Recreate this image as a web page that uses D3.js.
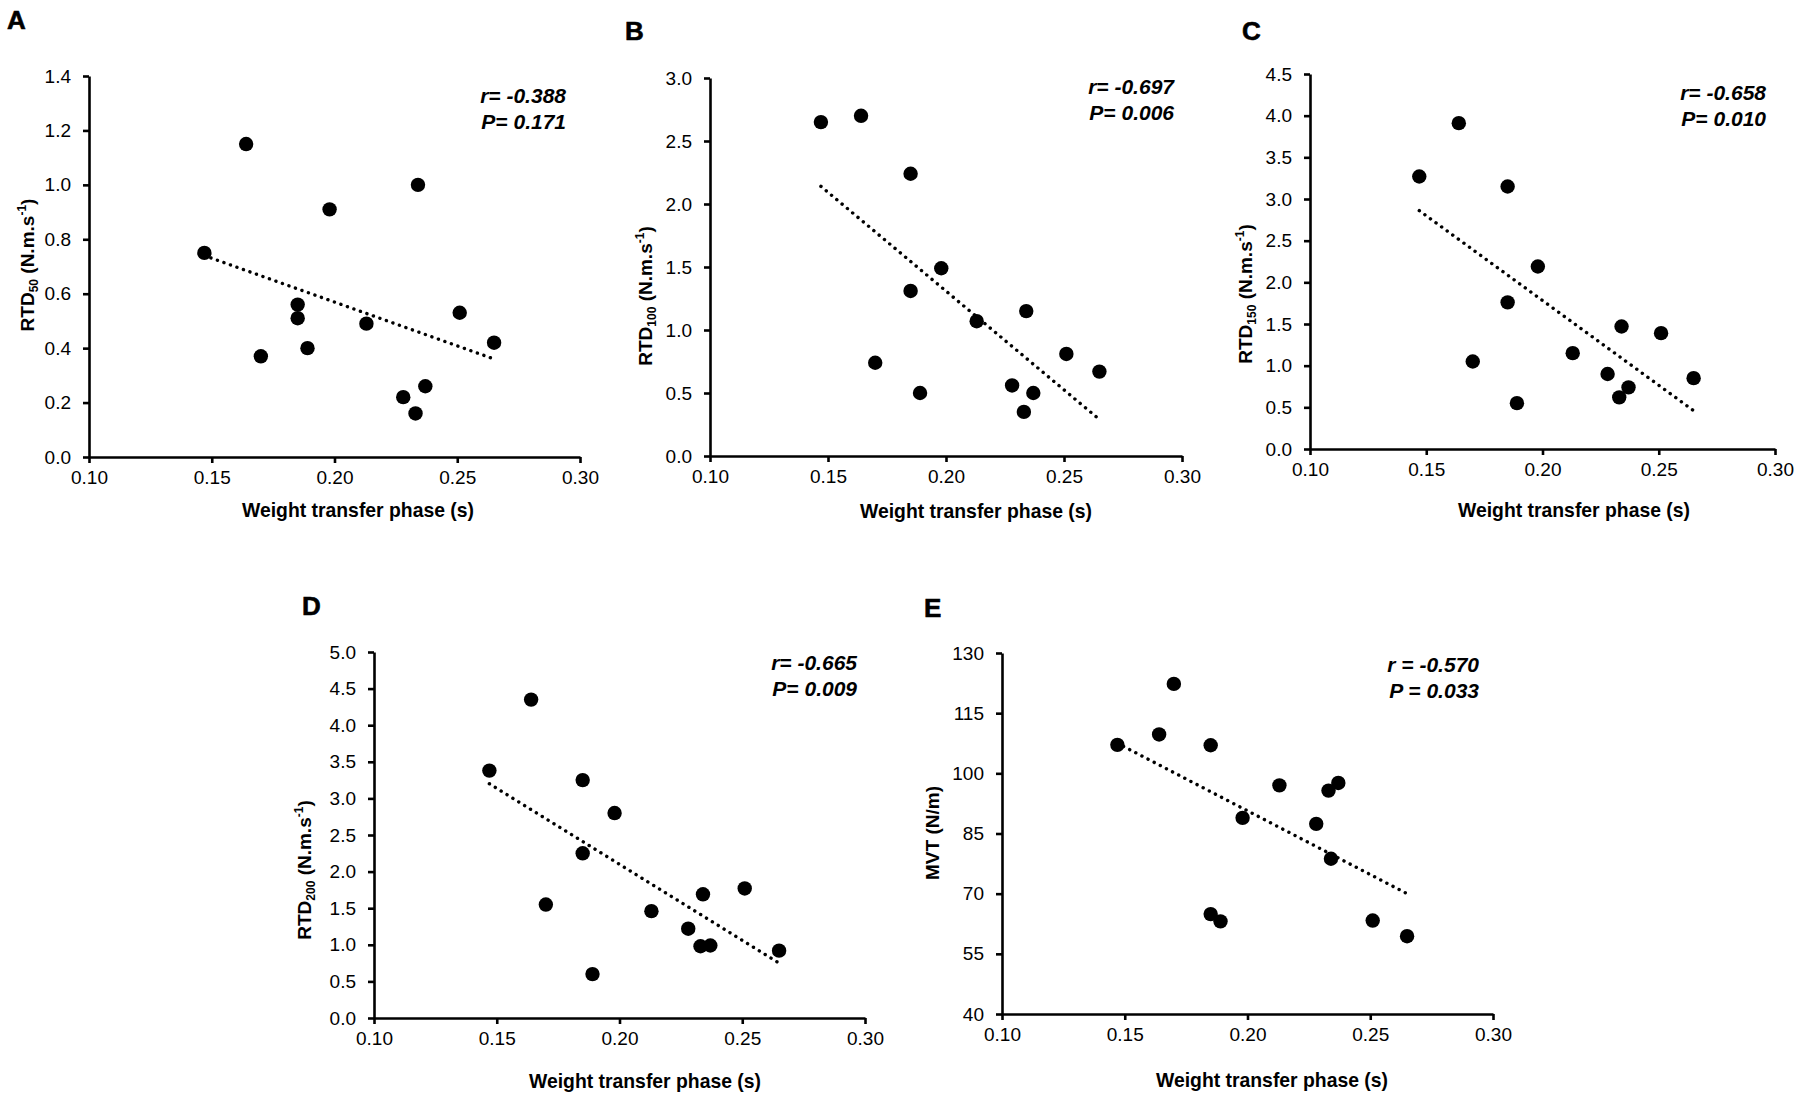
<!DOCTYPE html>
<html>
<head>
<meta charset="utf-8">
<script src="https://cdn.jsdelivr.net/npm/d3@7"></script>
<style>
  body { margin: 0; background: #fff; }
  svg { display: block; font-family: "Liberation Sans", Arial, sans-serif; }
</style>
</head>
<body>
<script>
// weight transfer phase (s), same 14 subjects in every panel
const wtp = [0.147, 0.164, 0.170, 0.185, 0.185, 0.189, 0.198, 0.213, 0.228, 0.233, 0.234, 0.237, 0.251, 0.265];

const rtd50  = [0.75, 1.15, 0.37, 0.56, 0.51, 0.40, 0.91, 0.49, 0.22, 0.16, 1.00, 0.26, 0.53, 0.42];
const rtd100 = [2.65, 2.70, 0.74, 2.24, 1.31, 0.50, 1.49, 1.07, 0.56, 0.35, 1.15, 0.50, 0.81, 0.67];
const rtd150 = [3.27, 3.91, 1.05, 3.15, 1.76, 0.55, 2.19, 1.15, 0.90, 0.62, 1.47, 0.74, 1.39, 0.85];
const rtd200 = [3.38, 4.35, 1.55, 3.25, 2.25, 0.60, 2.80, 1.46, 1.22, 0.98, 1.69, 0.99, 1.77, 0.92];
const mvt    = [107.1, 109.7, 122.3, 107.0, 64.9, 63.1, 88.9, 97.0, 87.4, 95.7, 78.7, 97.6, 63.3, 59.4];

// trend line end points
const trendX = [0.147, 0.265];
const trend50  = [0.74, 0.36];
const trend100 = [2.14, 0.29];
const trend150 = [2.86, 0.46];
const trend200 = [3.20, 0.75];
const trendMvt = [107.5, 70.0];

const xTicks = [0.10, 0.15, 0.20, 0.25, 0.30];
const yTicks50  = [0, 0.2, 0.4, 0.6, 0.8, 1.0, 1.2, 1.4];
const yTicks100 = [0, 0.5, 1.0, 1.5, 2.0, 2.5, 3.0];
const yTicks150 = [0, 0.5, 1.0, 1.5, 2.0, 2.5, 3.0, 3.5, 4.0, 4.5];
const yTicks200 = [0, 0.5, 1.0, 1.5, 2.0, 2.5, 3.0, 3.5, 4.0, 4.5, 5.0];
const yTicksMvt = [40, 55, 70, 85, 100, 115, 130];

const stats = [
  ["r= -0.388", "P= 0.171"],
  ["r= -0.697", "P= 0.006"],
  ["r= -0.658", "P= 0.010"],
  ["r= -0.665", "P= 0.009"],
  ["r = -0.570", "P = 0.033"]
];

const panels = [
  {letter: "A", values: rtd50,  trend: trend50,  ticks: yTicks50,  fmt: ".1f", sub: "50",
   x0: 89, x1: 580, yTop: 76, yBot: 457, lx: 7, ly: 29, sx: 566, sy: 103, tx: 27, ty: 265, xt: 358, xb: 517},
  {letter: "B", values: rtd100, trend: trend100, ticks: yTicks100, fmt: ".1f", sub: "100",
   x0: 710, x1: 1182, yTop: 78, yBot: 456, lx: 625, ly: 40, sx: 1174, sy: 94, tx: 645, ty: 296, xt: 976, xb: 518},
  {letter: "C", values: rtd150, trend: trend150, ticks: yTicks150, fmt: ".1f", sub: "150",
   x0: 1310, x1: 1775, yTop: 74, yBot: 449, lx: 1242, ly: 40, sx: 1766, sy: 100, tx: 1245, ty: 294, xt: 1574, xb: 517},
  {letter: "D", values: rtd200, trend: trend200, ticks: yTicks200, fmt: ".1f", sub: "200",
   x0: 374, x1: 865, yTop: 652, yBot: 1018, lx: 302, ly: 615, sx: 857, sy: 670, tx: 304, ty: 870, xt: 645, xb: 1088},
  {letter: "E", values: mvt,    trend: trendMvt, ticks: yTicksMvt, fmt: "d",   sub: null,
   x0: 1002, x1: 1493, yTop: 653, yBot: 1014, lx: 924, ly: 617, sx: 1479, sy: 672, tx: 932, ty: 833, xt: 1272, xb: 1087}
];

const svg = d3.select("body").append("svg")
  .attr("width", 1800)
  .attr("height", 1099);

panels.forEach((p, i) => drawPanel(p, stats[i]));

function drawPanel(p, st) {
  const x = d3.scaleLinear().domain([0.10, 0.30]).range([p.x0, p.x1]);
  const yMin = p.ticks[0], yMax = p.ticks[p.ticks.length - 1];
  const y = d3.scaleLinear().domain([yMin, yMax]).range([p.yBot, p.yTop]);
  const g = svg.append("g");

  const xAxis = g.append("g")
    .attr("transform", "translate(0," + p.yBot + ")")
    .call(d3.axisBottom(x).tickValues(xTicks).tickFormat(d3.format(".2f"))
      .tickSize(6).tickSizeOuter(0).tickPadding(8));
  const yAxis = g.append("g")
    .attr("transform", "translate(" + p.x0 + ",0)")
    .call(d3.axisLeft(y).tickValues(p.ticks).tickFormat(d3.format(p.fmt))
      .tickSize(6).tickSizeOuter(0).tickPadding(12));

  [xAxis, yAxis].forEach(a => {
    a.selectAll("path.domain").attr("stroke", "#000").attr("stroke-width", 2.6);
    a.selectAll(".tick line").attr("stroke", "#000").attr("stroke-width", 2.6);
    a.selectAll(".tick text")
      .attr("fill", "#000")
      .style("font-size", "19px")
      .style("font-family", "'Liberation Sans', Arial, sans-serif");
  });

  // dotted trend line
  g.append("line")
    .attr("x1", x(trendX[0])).attr("y1", y(p.trend[0]))
    .attr("x2", x(trendX[1])).attr("y2", y(p.trend[1]))
    .attr("stroke", "#000")
    .attr("stroke-width", 3.4)
    .attr("stroke-linecap", "round")
    .attr("stroke-dasharray", "0.1 6.8");

  g.selectAll("circle")
    .data(p.values.map((v, j) => [wtp[j], v]))
    .enter()
    .append("circle")
    .attr("cx", d => x(d[0]))
    .attr("cy", d => y(d[1]))
    .attr("r", 7.2)
    .attr("fill", "#000");

  // panel letter
  g.append("text")
    .attr("x", p.lx).attr("y", p.ly)
    .attr("font-size", 26).attr("font-weight", "bold")
    .attr("stroke", "#000").attr("stroke-width", 0.6)
    .text(p.letter);

  // r and P
  st.forEach((s, k) => {
    g.append("text")
      .attr("x", p.sx).attr("y", p.sy + k * 25.5)
      .attr("text-anchor", "end")
      .attr("font-size", 21).attr("font-weight", "bold").attr("font-style", "italic")
      .text(s);
  });

  // x title
  g.append("text")
    .attr("x", p.xt).attr("y", p.xb)
    .attr("text-anchor", "middle")
    .attr("font-size", 20.5).attr("font-weight", "bold")
    .attr("textLength", 232).attr("lengthAdjust", "spacingAndGlyphs")
    .text("Weight transfer phase (s)");

  // y title
  const yt = g.append("text")
    .attr("transform", "translate(" + (p.tx + 7) + "," + p.ty + ") rotate(-90)")
    .attr("text-anchor", "middle")
    .attr("font-size", 19).attr("font-weight", "bold");
  if (p.sub) {
    yt.append("tspan").text("RTD");
    yt.append("tspan").attr("font-size", 12).attr("dy", 4).text(p.sub);
    yt.append("tspan").attr("dy", -4).text(" (N.m.s");
    yt.append("tspan").attr("font-size", 12).attr("dy", -8).text("-1");
    yt.append("tspan").attr("dy", 8).text(")");
  } else {
    yt.text("MVT (N/m)");
  }
}
</script>
</body>
</html>
